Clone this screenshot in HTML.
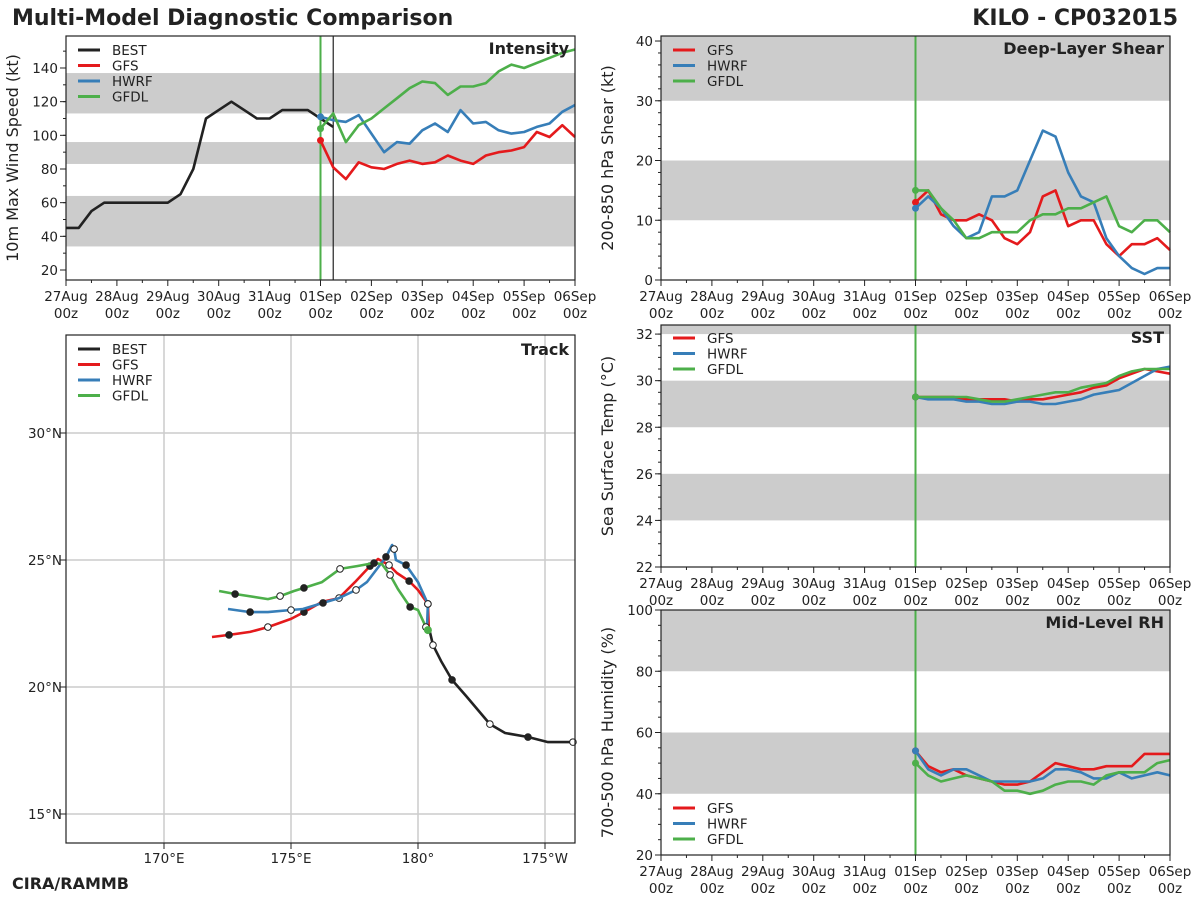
<!DOCTYPE html>
<html><head><meta charset="utf-8"><style>
body{margin:0;background:#fff;}
svg{display:block;font-family:"DejaVu Sans","Liberation Sans",sans-serif;}
</style></head><body>
<svg id="chart" width="1200" height="900" viewBox="0 0 1200 900" xmlns="http://www.w3.org/2000/svg">
<text x="12" y="25" font-size="22" font-weight="bold" fill="#222">Multi-Model Diagnostic Comparison</text>
<text x="1178" y="25" font-size="22" font-weight="bold" fill="#222" text-anchor="end">KILO - CP032015</text>
<text x="12" y="889" font-size="16" font-weight="bold" fill="#222">CIRA/RAMMB</text>
</svg>
<script>
// ---------- data ----------
const dayLabels = ["27Aug","28Aug","29Aug","30Aug","31Aug","01Sep","02Sep","03Sep","04Sep","05Sep","06Sep"];
const bestIntensity = [45,45,55,60,60,60,60,60,60,65,80,110,115,120,115,110,110,115,115,115,110,105];
const gfsIntensity = [97,81,74,84,81,80,83,85,83,84,88,85,83,88,90,91,93,102,99,106,99];
const hwrfIntensity = [111,109,108,112,101,90,96,95,103,107,102,115,107,108,103,101,102,105,107,114,118];
const gfdlIntensity = [104,113,96,106,110,116,122,128,132,131,124,129,129,131,138,142,140,143,146,149,151];
const gfsShear = [13,15,11,10,10,11,10,7,6,8,14,15,9,10,10,6,4,6,6,7,5];
const hwrfShear = [12,14,12,9,7,8,14,14,15,20,25,24,18,14,13,7,4,2,1,2,2];
const gfdlShear = [15,15,12,10,7,7,8,8,8,10,11,11,12,12,13,14,9,8,10,10,8];
const gfsSst = [29.3,29.3,29.3,29.3,29.2,29.2,29.2,29.2,29.1,29.2,29.2,29.3,29.4,29.5,29.7,29.8,30.1,30.3,30.5,30.4,30.3];
const hwrfSst = [29.3,29.2,29.2,29.2,29.1,29.1,29.0,29.0,29.1,29.1,29.0,29.0,29.1,29.2,29.4,29.5,29.6,29.9,30.2,30.5,30.6];
const gfdlSst = [29.3,29.3,29.3,29.3,29.3,29.2,29.1,29.1,29.2,29.3,29.4,29.5,29.5,29.7,29.8,29.9,30.2,30.4,30.5,30.5,30.5];
const gfsRh = [54,49,47,48,46,45,44,43,43,44,47,50,49,48,48,49,49,49,53,53,53];
const hwrfRh = [54,48,46,48,48,46,44,44,44,44,45,48,48,47,45,45,47,45,46,47,46];
const gfdlRh = [50,46,44,45,46,45,44,41,41,40,41,43,44,44,43,46,47,47,47,50,51];
const bestLon = [186.10,185.12,184.33,183.43,182.83,181.89,181.34,180.91,180.59,180.47];
const bestLat = [17.83,17.83,18.03,18.19,18.54,19.65,20.28,21.02,21.65,22.17];
const gfsLon = [180.43,180.39,180.0,179.65,179.17,178.86,178.43,178.11,177.52,176.89,176.22,175.51,175.0,174.09,173.39,172.56,171.89];
const gfsLat = [22.24,23.27,23.82,24.17,24.49,24.80,25.04,24.76,24.13,23.50,23.35,22.95,22.68,22.36,22.17,22.05,21.97];
const hwrfLon = [180.35,180.39,180.0,179.53,179.13,179.06,178.98,178.74,177.99,177.56,176.89,176.26,175.47,175.0,174.09,173.39,172.52];
const hwrfLat = [22.24,23.27,24.13,24.80,25.0,25.43,25.59,25.12,24.13,23.82,23.50,23.31,23.07,23.03,22.95,22.95,23.07];
const gfdlLon = [180.39,180.31,180.0,179.69,179.21,178.90,178.58,178.27,177.60,176.93,176.22,175.51,175.12,174.57,174.09,172.80,172.17];
const gfdlLat = [22.24,22.36,23.03,23.15,23.86,24.41,24.84,24.88,24.76,24.65,24.13,23.90,23.78,23.58,23.46,23.66,23.78];
const trackLonTicks = [170,175,180,185];
const trackLonLabels = ["170°E","175°E","180°","175°W"];
const trackLatTicks = [15,20,25,30];

const NS="http://www.w3.org/2000/svg";
const svg=document.getElementById('chart');
const C={best:"#222222",gfs:"#e41a1c",hwrf:"#377eb8",gfdl:"#4daf4a"};
function el(tag,attrs,parent){const e=document.createElementNS(NS,tag);for(const k in attrs)e.setAttribute(k,attrs[k]);(parent||svg).appendChild(e);return e;}

function timePanel(o){
  const g=el('g',{});
  
  
  const xs=t=>o.x0+(t)*(o.x1-o.x0)/40;
  const ys=v=>o.y1-(v-o.ymin)*(o.y1-o.y0)/(o.ymax-o.ymin);
  o.bands.forEach(b=>{
    const r=el('rect',{x:o.x0,y:ys(Math.min(b[1],o.ymax)),width:o.x1-o.x0,height:ys(b[0])-ys(Math.min(b[1],o.ymax)),fill:"#cccccc"},g);
    
    
  });
  for(let d=0;d<=40;d+=2){const x=xs(d);el('line',{x1:x,x2:x,y1:o.y1,y2:o.y1+(d%4==0?6:3),stroke:"#222"},g);}
  dayLabels.forEach((lab,i)=>{const x=xs(i*4);
    const t=el('text',{x:x,y:o.y1+21,'font-size':13.5,'text-anchor':'middle',fill:'#222'},g);t.textContent=lab;
    
    
    const t2=el('text',{x:x,y:o.y1+38,'font-size':13.5,'text-anchor':'middle',fill:'#222'},g);t2.textContent="00z";
    
    
  });
  for(let v=o.minorStart;v<=o.ymax;v+=o.minor){const y=ys(v);if(y<o.y0-0.5)continue;el('line',{x1:o.x0-3,x2:o.x0,y1:y,y2:y,stroke:"#222"},g);}
  o.yticks.forEach(v=>{const y=ys(v);el('line',{x1:o.x0-6,x2:o.x0,y1:y,y2:y,stroke:"#222"},g);
    const t=el('text',{x:o.x0-8,y:y+5,'font-size':13.5,'text-anchor':'end',fill:'#222'},g);t.textContent=v;
    
    });
  const yt=el('text',{x:0,y:0,'font-size':16,'text-anchor':'middle',fill:'#222',transform:`translate(${o.x0-48},${(o.y0+o.y1)/2}) rotate(-90)`},g);
  yt.textContent=o.ylabel;
  
  
  const vx=xs(20);
  el('line',{x1:vx,x2:vx,y1:o.y0,y2:o.y1,stroke:C.gfdl,'stroke-width':2},g);
  if(o.bestLine){const bx=xs(21);el('line',{x1:bx,x2:bx,y1:o.y0,y2:o.y1,stroke:"#222",'stroke-width':1.2},g);}
  o.series.forEach(s=>{
    const pts=s.data.map((v,i)=>`${xs(s.start+i).toFixed(1)},${ys(v).toFixed(1)}`).join(' ');
    const p=el('polyline',{points:pts,fill:'none',stroke:C[s.key],'stroke-width':2.6,'stroke-linejoin':'round'},g);
    
    
    if(s.start==20){el('circle',{cx:xs(20),cy:ys(s.data[0]),r:3.5,fill:C[s.key]},g);}
  });
  el('rect',{x:o.x0,y:o.y0,width:o.x1-o.x0,height:o.y1-o.y0,fill:'none',stroke:'#222','stroke-width':1.2},g);
  const tt=el('text',{x:o.x1-6,y:o.y0+18,'font-size':16,'font-weight':'bold','text-anchor':'end',fill:'#222'},g);
  tt.textContent=o.title;
  
  
  legend(g,o.x0+12,o.legendY,o.legend);
}
function legend(g,x,y,keys){
  const names={best:"BEST",gfs:"GFS",hwrf:"HWRF",gfdl:"GFDL"};
  keys.forEach((k,i)=>{const yy=y+i*15.5;
    el('line',{x1:x,x2:x+22,y1:yy,y2:yy,stroke:C[k],'stroke-width':3},g);
    const t=el('text',{x:x+34,y:yy+5,'font-size':13.5,fill:'#222'},g);t.textContent=names[k];
    
    
  });
}

timePanel({name:'intensity-panel',x0:66,x1:575,y0:36,y1:280,ymin:14.06,ymax:159,yticks:[20,40,60,80,100,120,140],minor:10,minorStart:20,
  bands:[[34,64],[83,96],[113,137]],ylabel:"10m Max Wind Speed (kt)",title:"Intensity",bestLine:true,legendY:50,legend:['best','gfs','hwrf','gfdl'],
  series:[{key:'best',data:bestIntensity,start:0},{key:'gfs',data:gfsIntensity,start:20},{key:'hwrf',data:hwrfIntensity,start:20},{key:'gfdl',data:gfdlIntensity,start:20}]});
timePanel({name:'shear-panel',x0:661,x1:1170,y0:36,y1:280,ymin:0,ymax:40.84,yticks:[0,10,20,30,40],minor:2,minorStart:0,
  bands:[[10,20],[30,41]],ylabel:"200-850 hPa Shear (kt)",title:"Deep-Layer Shear",legendY:50,legend:['gfs','hwrf','gfdl'],
  series:[{key:'gfs',data:gfsShear,start:20},{key:'hwrf',data:hwrfShear,start:20},{key:'gfdl',data:gfdlShear,start:20}]});
timePanel({name:'sst-panel',x0:661,x1:1170,y0:325,y1:567,ymin:22,ymax:32.39,yticks:[22,24,26,28,30,32],minor:0.5,minorStart:22,
  bands:[[24,26],[28,30],[32,33]],ylabel:"Sea Surface Temp (°C)",title:"SST",legendY:338,legend:['gfs','hwrf','gfdl'],
  series:[{key:'gfs',data:gfsSst,start:20},{key:'hwrf',data:hwrfSst,start:20},{key:'gfdl',data:gfdlSst,start:20}]});
timePanel({name:'rh-panel',x0:661,x1:1170,y0:610,y1:855,ymin:20,ymax:100,yticks:[20,40,60,80,100],minor:5,minorStart:20,
  bands:[[40,60],[80,100]],ylabel:"700-500 hPa Humidity (%)",title:"Mid-Level RH",legendY:808,legend:['gfs','hwrf','gfdl'],
  series:[{key:'gfs',data:gfsRh,start:20},{key:'hwrf',data:hwrfRh,start:20},{key:'gfdl',data:gfdlRh,start:20}]});

(function(){
  const x0=66,x1=575,y0=335,y1=843;
  const lx=lon=>164+(lon-170)*25.4;
  const ly=lat=>433-(lat-30)*25.4;
  const g=el('g',{});
  
  
  el('rect',{x:x0,y:y0,width:x1-x0,height:y1-y0,fill:'#fff'},g);
  trackLonTicks.forEach((v,i)=>{const x=lx(v);
    el('line',{x1:x,x2:x,y1:y0,y2:y1,stroke:'#cccccc','stroke-width':1.5},g);
    el('line',{x1:x,x2:x,y1:y1,y2:y1+6,stroke:'#222'},g);
    const t=el('text',{x:x,y:y1+20,'font-size':13.5,'text-anchor':'middle',fill:'#222'},g);t.textContent=trackLonLabels[i];
    
    });
  trackLatTicks.forEach(v=>{const y=ly(v);
    el('line',{x1:x0,x2:x1,y1:y,y2:y,stroke:'#cccccc','stroke-width':1.5},g);
    el('line',{x1:x0-6,x2:x0,y1:y,y2:y,stroke:'#222'},g);
    const t=el('text',{x:x0-4,y:y+5,'font-size':13.5,'text-anchor':'end',fill:'#222'},g);t.textContent=v+"°N";
    
    });
  function track(key,lons,lats,markFrom){
    const pts=lons.map((v,i)=>`${lx(v).toFixed(1)},${ly(lats[i]).toFixed(1)}`).join(' ');
    const p=el('polyline',{points:pts,fill:'none',stroke:C[key],'stroke-width':2.6,'stroke-linejoin':'round'},g);
    
    
    lons.forEach((v,i)=>{if(i<markFrom||(i-markFrom)%2)return;
      const k=(i-markFrom)/2;
      el('circle',{cx:lx(v),cy:ly(lats[i]),r:3.3,fill:k%2?'#222':'#fff',stroke:'#222','stroke-width':1},g);});
  }
  track('best',bestLon,bestLat,0);
  track('gfs',gfsLon,gfsLat,1);
  track('hwrf',hwrfLon,hwrfLat,1);
  track('gfdl',gfdlLon,gfdlLat,1);
  el('circle',{cx:lx(gfdlLon[0]),cy:ly(gfdlLat[0]),r:4,fill:C.gfdl},g);
  el('rect',{x:x0,y:y0,width:x1-x0,height:y1-y0,fill:'none',stroke:'#222','stroke-width':1.2},g);
  const tt=el('text',{x:x1-6,y:y0+20,'font-size':16,'font-weight':'bold','text-anchor':'end',fill:'#222'},g);tt.textContent="Track";
  
  
  legend(g,x0+12,349,['best','gfs','hwrf','gfdl']);
})();
</script>
</body></html>
